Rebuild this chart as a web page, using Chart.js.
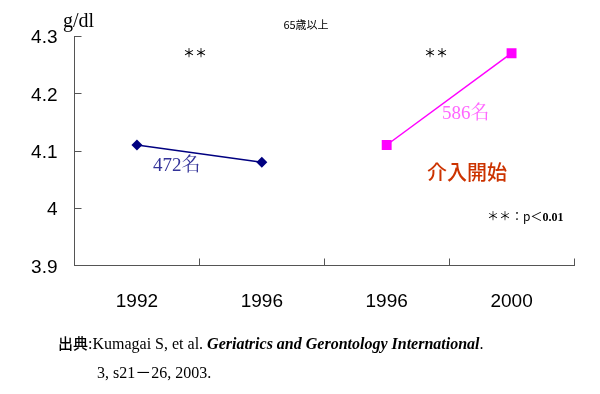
<!DOCTYPE html>
<html>
<head>
<meta charset="utf-8">
<script src="https://cdn.jsdelivr.net/npm/chart.js@4.4.1/dist/chart.umd.min.js"></script>
<style>
html,body{margin:0;padding:0;background:#fff;}
#wrap{width:600px;height:394px;position:relative;}
</style>
</head>
<body>
<div id="wrap"><canvas id="c" width="600" height="394"></canvas></div>
<script>
const categories = ['1992', '1996', '1996', '2000'];
const beforeSeries = [4.11, 4.08, null, null];
const afterSeries = [null, null, 4.11, 4.27];
const yTicks = [3.9, 4.0, 4.1, 4.2, 4.3];

const SERIF = '"Liberation Serif", "Noto Serif CJK JP", "Noto Sans CJK JP", serif';
const SANS = '"Liberation Sans", "Noto Sans CJK JP", sans-serif';
const CJK = '"Noto Sans CJK JP", sans-serif';

function drawRuns(ctx, runs, x, y) {
  ctx.textBaseline = 'alphabetic';
  runs.forEach(([s, f]) => {
    ctx.font = f;
    ctx.fillText(s, x, y);
    x += ctx.measureText(s).width;
  });
}

const annotations = {
  id: 'annotations',
  afterDraw(chart) {
    const ctx = chart.ctx;
    const x = chart.scales.x, y = chart.scales.y;
    const area = chart.chartArea;
    ctx.save();
    // inward tick marks
    ctx.strokeStyle = '#555';
    ctx.lineWidth = 1;
    ctx.beginPath();
    const step = x.getPixelForValue(1) - x.getPixelForValue(0);
    for (let i = 0; i < categories.length; i++) {
      const px = Math.round(x.getPixelForValue(i) + step / 2) + 0.5;
      ctx.moveTo(px, area.bottom);
      ctx.lineTo(px, area.bottom - 7);
    }
    yTicks.forEach(v => {
      if (v === y.min) return;
      const py = Math.round(y.getPixelForValue(v)) + 0.5;
      ctx.moveTo(area.left, py);
      ctx.lineTo(area.left + 7, py);
    });
    ctx.stroke();

    const txt = (s, px, py, font, color, align) => {
      ctx.textBaseline = 'middle';
      ctx.font = font; ctx.fillStyle = color; ctx.textAlign = align || 'left';
      ctx.fillText(s, px, py);
    };
    txt('g/dl', 63, 22, '20px ' + SERIF, '#000');
    txt('65歳以上', 306, 25, '11px ' + CJK, '#000', 'center');
    txt('＊＊', 195, 53, '500 12px ' + CJK, '#000', 'center');
    txt('＊＊', 436, 53, '500 12px ' + CJK, '#000', 'center');
    txt('472名', 153, 166, '19px ' + SERIF, '#333399');
    txt('586名', 442, 114, '19px ' + SERIF, '#FF66FF');
    txt('介入開始', 427, 172, '500 20px ' + CJK, '#CC3300');
    ctx.textAlign = 'left';
    ctx.fillStyle = '#000';
    drawRuns(ctx, [
      ['＊＊：p＜', '12px ' + CJK],
      ['0.01', 'bold 12px ' + SERIF]
    ], 487, 221);
    // footer
    drawRuns(ctx, [
      ['出典', '500 15px ' + CJK],
      [':', '16px ' + SERIF],
      ['Kumagai S, et al. ', '16px ' + SERIF],
      ['Geriatrics and Gerontology International', 'italic bold 16px ' + SERIF],
      ['.', '16px ' + SERIF]
    ], 58, 349);
    drawRuns(ctx, [
      ['3, ', '16px ' + SERIF],
      ['s21', '16px ' + SERIF],
      ['－', '16px ' + CJK],
      ['26, ', '16px ' + SERIF],
      ['2003.', '16px ' + SERIF]
    ], 97, 378);
    ctx.restore();
  }
};

new Chart(document.getElementById('c'), {
  type: 'line',
  data: {
    labels: categories,
    datasets: [
      {
        data: beforeSeries,
        borderColor: '#000080',
        backgroundColor: '#000080',
        borderWidth: 1.5,
        pointStyle: 'rectRot',
        pointRadius: 5.5,
        pointBorderWidth: 0,
        spanGaps: false
      },
      {
        data: afterSeries,
        borderColor: '#FF00FF',
        backgroundColor: '#FF00FF',
        borderWidth: 1.5,
        pointStyle: 'rect',
        pointRadius: 7,
        pointBorderWidth: 0,
        spanGaps: false
      }
    ]
  },
  options: {
    responsive: false,
    animation: false,
    devicePixelRatio: 1,
    layout: { padding: { top: 36, right: 26, bottom: 0, left: 0 } },
    plugins: { legend: { display: false }, tooltip: { enabled: false } },
    scales: {
      x: {
        type: 'category',
        offset: true,
        grid: { display: false, drawTicks: false },
        border: { display: true, color: '#555', width: 1 },
        ticks: {
          color: '#000',
          font: { family: SANS, size: 19 },
          padding: 25,
          maxRotation: 0,
          autoSkip: false
        },
        afterFit(scale) { scale.height = 128.5; }
      },
      y: {
        min: 3.9,
        max: 4.3,
        grid: { display: false, drawTicks: false },
        border: { display: true, color: '#555', width: 1 },
        afterBuildTicks(scale) { scale.ticks = yTicks.map(v => ({ value: v })); },
        ticks: {
          color: '#000',
          font: { family: SANS, size: 19 },
          padding: 17,
          labelOffset: 2,
          callback(v) { return Math.round(v * 10) / 10 + ''; }
        },
        afterFit(scale) { scale.width = 74.5; }
      }
    }
  },
  plugins: [annotations]
});
</script>
</body>
</html>
